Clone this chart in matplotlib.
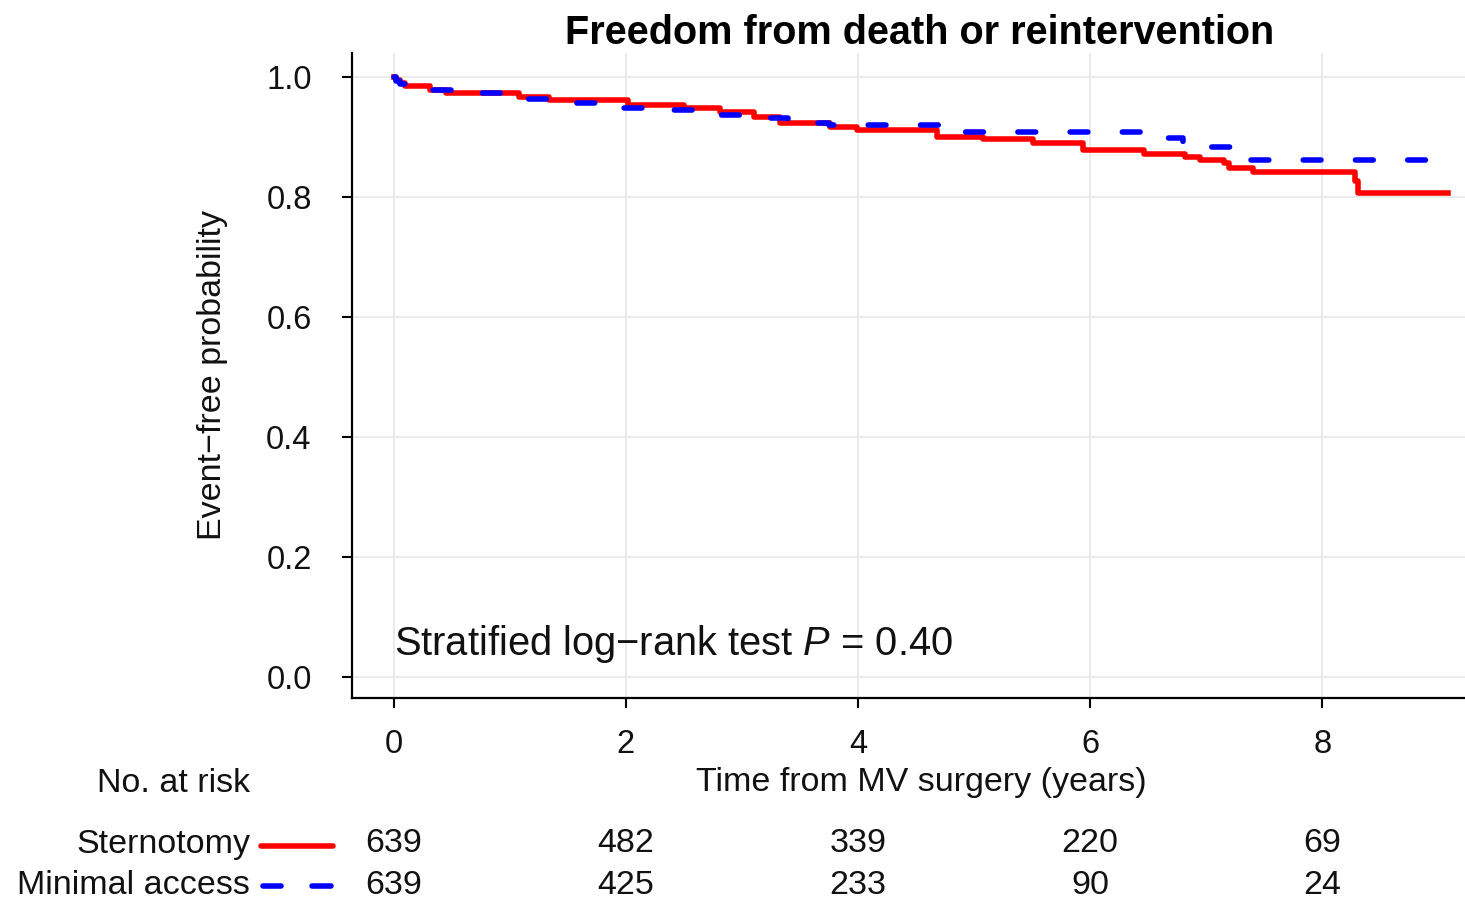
import matplotlib
matplotlib.use('Agg')
import matplotlib.pyplot as plt
import matplotlib.lines as mlines
from matplotlib.transforms import blended_transform_factory

plt.rcParams['font.family'] = ['Liberation Sans', 'DejaVu Sans']
plt.rcParams['mathtext.fontset'] = 'custom'
plt.rcParams['mathtext.rm'] = 'Liberation Sans'
plt.rcParams['mathtext.it'] = 'Liberation Sans:italic'

# Kaplan-Meier step data
sterno_t = [0, 0.02, 0.05, 0.1, 0.31, 0.45, 1.08, 1.34, 2.02, 2.5, 2.81, 3.1, 3.33,
            3.76, 3.99, 4.68, 5.08, 5.51, 5.94, 6.46, 6.82, 6.95, 7.15, 7.2, 7.4,
            8.28, 8.31, 9.08]
sterno_s = [1.0, 0.995, 0.99, 0.985, 0.978, 0.973, 0.966, 0.962, 0.954, 0.948, 0.942,
            0.934, 0.923, 0.917, 0.911, 0.900, 0.897, 0.890, 0.879, 0.872, 0.867,
            0.862, 0.856, 0.849, 0.842, 0.826, 0.807, 0.807]

minimal_t = [0, 0.02, 0.05, 0.1, 0.3, 0.7, 1.1, 1.5, 1.9, 2.2, 2.7, 2.8, 3.05, 3.4,
             3.75, 4.7, 6.45, 6.8, 7.38, 9.08]
minimal_s = [1.0, 0.993, 0.988, 0.984, 0.978, 0.974, 0.964, 0.957, 0.948, 0.945,
             0.940, 0.937, 0.931, 0.924, 0.920, 0.909, 0.898, 0.883, 0.862, 0.862]

risk_times = [0, 2, 4, 6, 8]
sterno_risk = [639, 482, 339, 220, 69]
minimal_risk = [639, 425, 233, 90, 24]

W, H = 1465, 898
fig = plt.figure(figsize=(W / 100, H / 100), dpi=100)
ax = fig.add_axes([352 / W, 1 - 698 / H, 1 - 352 / W, (698 - 53) / H])

red, blue = '#ff0000', '#0000ff'
lw = 4.0
dash = (0, (3.2, 6.2))
ax.step(sterno_t, sterno_s, where='post', color=red, lw=lw, zorder=3,
        solid_joinstyle='round')
ax.step(minimal_t, minimal_s, where='post', color=blue, lw=lw,
        linestyle=dash, dash_capstyle='round', zorder=4)

ax.set_xlim(-0.36, 9.23)
ax.set_ylim(-0.035, 1.04)
ax.set_xticks([0, 2, 4, 6, 8])
ax.set_yticks([0, 0.2, 0.4, 0.6, 0.8, 1.0])
ax.set_yticklabels(['0.0', '0.2', '0.4', '0.6', '0.8', '1.0'])
ax.grid(True, color='#ebebeb', lw=1.5, zorder=0)
ax.set_axisbelow(True)
for s in ['top', 'right']:
    ax.spines[s].set_visible(False)
for s in ['left', 'bottom']:
    ax.spines[s].set_linewidth(1.6)
ax.tick_params(axis='y', length=7, width=1.5, pad=22, labelsize=23.5, labelcolor='#111111')
ax.tick_params(axis='x', length=7, width=1.5, pad=15, labelsize=23.5, labelcolor='#111111')

ax.text(0, 0.055, 'Stratified log\u2212rank test $P$ = 0.40', fontsize=28.7,
        ha='left', va='center', color='#111111')

fig.text(920 / W, 1 - 33 / H, 'Freedom from death or reintervention',
         fontsize=28.5, fontweight='bold', ha='center', va='center')
fig.text(212 / W, 1 - 375 / H, 'Event\u2212free probability', fontsize=24.5,
         rotation=90, ha='center', va='center', color='#111111')
fig.text(921 / W, 1 - 782 / H, 'Time from MV surgery (years)', fontsize=24.5,
         ha='center', va='center', color='#111111')

# number at risk table
fs = 24.5
fig.text(250 / W, 1 - 783 / H, 'No. at risk', fontsize=fs, ha='right', va='center',
         color='#111111')
fig.text(250 / W, 1 - 844 / H, 'Sternotomy', fontsize=fs, ha='right', va='center',
         color='#111111')
fig.text(250 / W, 1 - 885 / H, 'Minimal access', fontsize=fs, ha='right', va='center',
         color='#111111')
fig.add_artist(mlines.Line2D([261 / W, 333 / W], [1 - 846 / H, 1 - 846 / H],
                             color=red, lw=lw, solid_capstyle='round'))
# legend key for the dashed line: two dashes
for x0, x1 in [(263, 281), (312, 331)]:
    fig.add_artist(mlines.Line2D([x0 / W, x1 / W], [1 - 886 / H, 1 - 886 / H],
                                 color=blue, lw=lw, solid_capstyle='round'))

trans = blended_transform_factory(ax.transData, fig.transFigure)
for t, a, b in zip(risk_times, sterno_risk, minimal_risk):
    ax.text(t, 1 - 844 / H, str(a), transform=trans, fontsize=fs, ha='center',
            va='center', color='#111111', clip_on=False)
    ax.text(t, 1 - 885 / H, str(b), transform=trans, fontsize=fs, ha='center',
            va='center', color='#111111', clip_on=False)

fig.savefig('out.png', dpi=100)
